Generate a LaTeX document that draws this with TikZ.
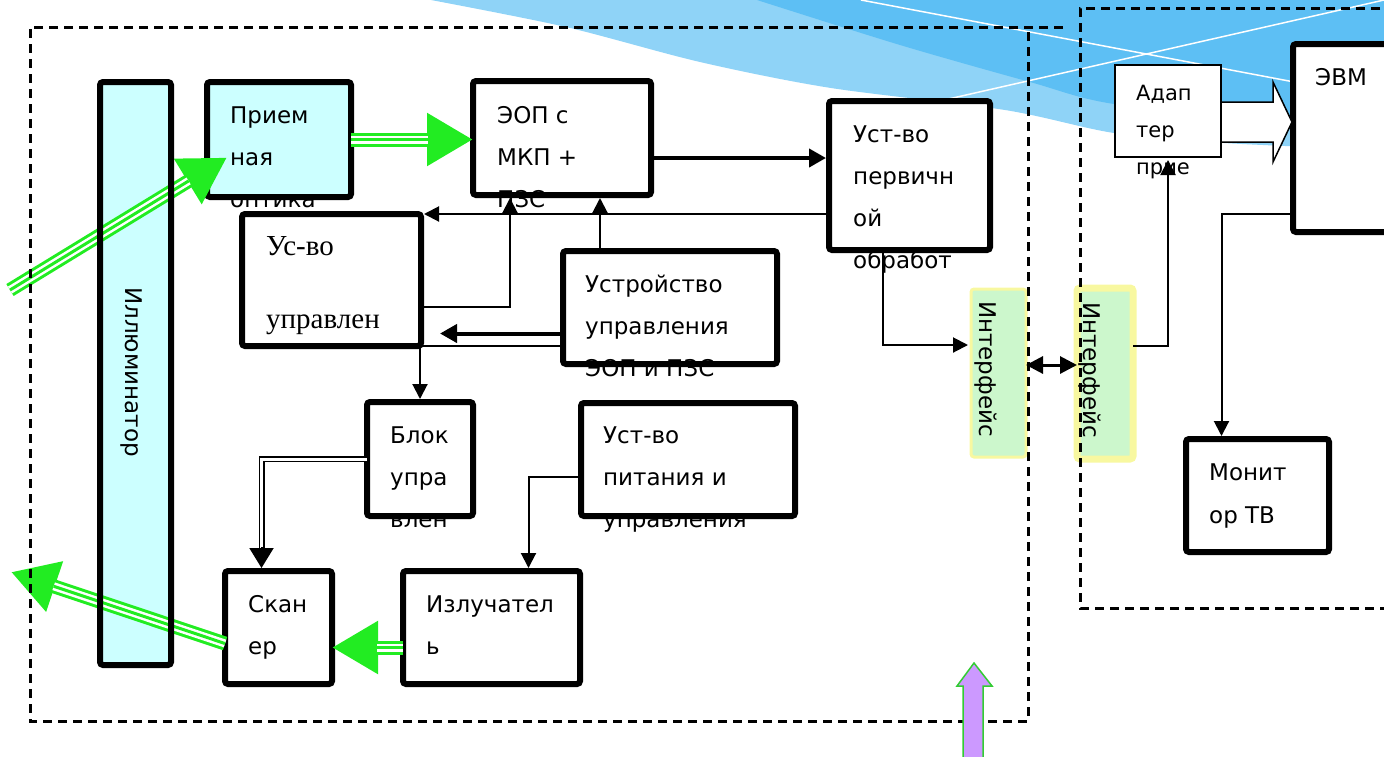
\documentclass[tikz,border=0pt]{standalone}
\usepackage{fontspec}
\setmainfont{DejaVu Sans}
\newfontfamily\timesfont{Liberation Serif}
\usetikzlibrary{positioning,calc,arrows.meta}
\definecolor{cyanbox}{HTML}{CCFFFF}
\definecolor{beamgreen}{HTML}{22EC22}
\definecolor{ifgreen}{HTML}{CCF7CC}
\definecolor{ifyellow}{HTML}{F8F8A0}
\definecolor{skylight}{HTML}{8FD3F7}
\definecolor{skydark}{HTML}{5DBFF4}
\definecolor{lilac}{HTML}{CC99FF}
\definecolor{lilacline}{HTML}{33CC33}
\newcommand{\blocktext}[1]{\begin{tabular}[t]{@{}l@{}}#1\end{tabular}}

\tikzset{
  box/.style={fill=white, inner sep=0pt, outer sep=0pt},
  frame/.style={draw=black, line width=6pt, rounded corners=3pt},
  txt/.style={anchor=base west, inner sep=0pt, font=\fontsize{23}{42}\selectfont},
  vtxt/.style={rotate=-90, inner sep=0pt, font=\fontsize{23}{28}\selectfont},
  conn/.style={draw, line width=2pt, -{Triangle[length=15pt,width=15pt]}, shorten >=3pt},
  thickconn/.style={draw, line width=4pt, -{Triangle[length=17pt,width=18pt]}, shorten >=3pt},
  dbl/.style={draw, double, double distance=3pt, line width=1.5pt, shorten >=20pt},
  beam/.style={draw=beamgreen, line width=14pt, -{Triangle[length=46pt,width=50pt]},
    postaction={draw=white, line width=8pt, -, shorten >=45pt},
    postaction={draw=beamgreen, line width=3pt, -, shorten >=45pt}},
  dashframe/.style={draw, line width=3pt, dash pattern=on 9pt off 6pt},
  iface/.style={fill=ifgreen, draw=ifyellow, rounded corners=3pt, inner sep=0pt, outer sep=0pt},
}

\begin{document}
\begin{tikzpicture}[x=1pt,y=-1pt]
    \useasboundingbox (0,0) rectangle (1384,756);

    % background swoosh
    \fill[skylight] plot[smooth] coordinates {(431,0) (566,27) (700,62) (831,88) (1005,110) (1114,133) (1224,143) (1384,150)} -- (1384,0) -- cycle;
    \fill[skydark] plot[smooth] coordinates {(757,0) (900,45) (1030,82) (1114,104) (1290,122) (1384,126)} -- (1384,0) -- cycle;
    \draw[white, line width=1.5pt] (861,0) -- (1384,99);
    \draw[white, line width=1.5pt] (900,110) -- (1384,0);

    % blocks
    \node[box, fill=cyanbox, minimum width=71pt, minimum height=583pt] (illum) at (135.5,373.5) {};
    \node[box, fill=cyanbox, minimum width=144pt, minimum height=115pt] (opt) at (279,139.5) {};
    \node[box, minimum width=178pt, minimum height=114pt] (eop) at (562,138) {};
    \node[box, minimum width=161pt, minimum height=149pt] (perv) at (909.5,175.5) {};
    \node[box, minimum width=179pt, minimum height=132pt] (usvo) at (331.5,280) {};
    \node[box, minimum width=214pt, minimum height=113pt] (ustr) at (670,307.5) {};
    \node[box, minimum width=106pt, minimum height=114pt] (blok) at (420,459) {};
    \node[box, minimum width=214pt, minimum height=113pt] (pit) at (688,459.5) {};
    \node[box, minimum width=107pt, minimum height=113pt] (scan) at (278.5,627.5) {};
    \node[box, minimum width=177pt, minimum height=113pt] (izl) at (491.5,627.5) {};
    \node[box, minimum width=106pt, minimum height=92pt] (adap) at (1168,111) {};
    \node[box, minimum width=127pt, minimum height=188pt] (evm) at (1356.5,138) {};
    \node[box, minimum width=143pt, minimum height=113pt] (mon) at (1257.5,495.5) {};
    \node[iface, line width=3pt, minimum width=55pt, minimum height=168pt] (if1) at (998.5,373) {};
    \node[iface, line width=7pt, minimum width=56pt, minimum height=171pt] (if2) at (1105,373.5) {};

    % texts
    \node[vtxt] (illum-t) at (131,372) {Иллюминатор};
    \node[txt] (opt-t) at (230,123) {\blocktext{Прием\\ная\\оптика}};
    \node[txt] (eop-t) at (497,123) {\blocktext{ЭОП с\\МКП +\\ПЗС}};
    \node[txt] (perv-t) at (853,142) {\blocktext{Уст-во\\первичн\\ой\\обработ}};
    \node[txt, font=\timesfont\fontsize{29}{36.5}\selectfont] (usvo-t) at (266,255) {\blocktext{Ус-во\\ \\управлен}};
    \node[txt] (ustr-t) at (585,292) {\blocktext{Устройство\\управления\\ЭОП и ПЗС}};
    \node[txt] (blok-t) at (390,443) {\blocktext{Блок\\упра\\влен}};
    \node[txt] (pit-t) at (603,443) {\blocktext{Уст-во\\питания и\\управления}};
    \node[txt] (scan-t) at (248,612) {\blocktext{Скан\\ер}};
    \node[txt] (izl-t) at (426,612) {\blocktext{Излучател\\ь}};
    \node[txt, font=\fontsize{21}{37}\selectfont] (adap-t) at (1136,100) {\blocktext{Адап\\тер\\прие}};
    \node[txt] (evm-t) at (1315,85) {ЭВМ};
    \node[txt, font=\fontsize{23}{43}\selectfont] (mon-t) at (1209,480) {\blocktext{Монит\\ор ТВ}};
    \node[vtxt] (if1-t) at (986,369) {Интерфейс};
    \node[vtxt] (if2-t) at (1090,370) {Интерфейс};

    % frames over the texts
    \foreach \n in {opt,eop,perv,usvo,ustr,blok,pit,scan,izl,evm,mon}
      \draw[frame] (\n.north west) rectangle (\n.south east);
    \draw[line width=1.5pt] (adap.north west) rectangle (adap.south east);

    % signal lines
    \draw[thickconn] ([yshift=-20pt]eop.east) coordinate (e1) -- (e1 -| perv.west);
    \draw[conn] (perv.west |- usvo.north east) -- (usvo.north east);
    \draw[conn] ([yshift=-27pt]usvo.east) -| ([xshift=-52pt]eop.south);
    \draw[conn] ([xshift=-70pt]ustr.north) coordinate (u1) -- (u1 |- eop.south);
    \draw[thickconn, shorten >=19pt] ([yshift=-26pt]ustr.west) coordinate (u2) -- (u2 -| usvo.east);
    \draw[line width=2pt] ([yshift=-38pt]ustr.west) coordinate (u3) -- (u3 -| usvo.east);
    \draw[conn] (blok.north |- usvo.south) -- (blok.north);
    \draw[dbl] (blok.west) -| ([xshift=-17pt]scan.north) coordinate (s1);
    \draw[line width=2pt, -{Triangle[length=20pt,width=24pt]}, shorten >=3pt] ([yshift=24pt]s1) -- (s1);
    \draw[conn] ([yshift=-17pt]pit.west) -| ([xshift=37pt]izl.north);
    \draw[conn] ([xshift=-27pt]perv.south) |- ([yshift=28pt]if1.west);
    \draw[line width=3pt, {Triangle[length=17pt,width=17pt]}-{Triangle[length=17pt,width=17pt]}]
      ([yshift=8pt]if1.east) coordinate (i1) -- (i1 -| if2.west);
    \draw[conn] ([yshift=28pt]if2.east) -| (adap.south);
    \draw[conn] ([yshift=-76pt]evm.west) -| ([xshift=-36pt]mon.north);
    \draw[fill=white, line width=1.5pt] ([yshift=9pt]adap.east) -- ++(52,0) -- ++(0,-20) -- ++(19,40)
      -- ++(-19,40) -- ++(0,-20) -- ++(-52,0) -- cycle;

    % light beams
    \coordinate (src) at (10,290);
    \coordinate (out) at (11,572);
    \draw[beam] (src) -- ([xshift=20pt,yshift=-18pt]opt.west);
    \draw[beam] (opt.east) -- (opt.east -| eop.west);
    \draw[beam] ([yshift=-20pt]izl.west) coordinate (b1) -- (b1 -| scan.east);
    \draw[beam] ([yshift=-16pt]scan.west) -- (out);

    \draw[frame] (illum.north west) rectangle (illum.south east);

    % unit borders
    \draw[dashframe] (1063,27) -- (30,27) -- (30,721) -- (1028,721) -- (1028,27);
    \draw[dashframe] (1395,8) -- (1080,8) -- (1080,608) -- (1395,608);

    % input arrow
    \draw[fill=lilac, draw=lilacline, line width=1.5pt] (963,762) -- (963,686) -- (957,686) -- (974,663)
      -- (992,686) -- (983,686) -- (983,762) -- cycle;
\end{tikzpicture}
\end{document}
